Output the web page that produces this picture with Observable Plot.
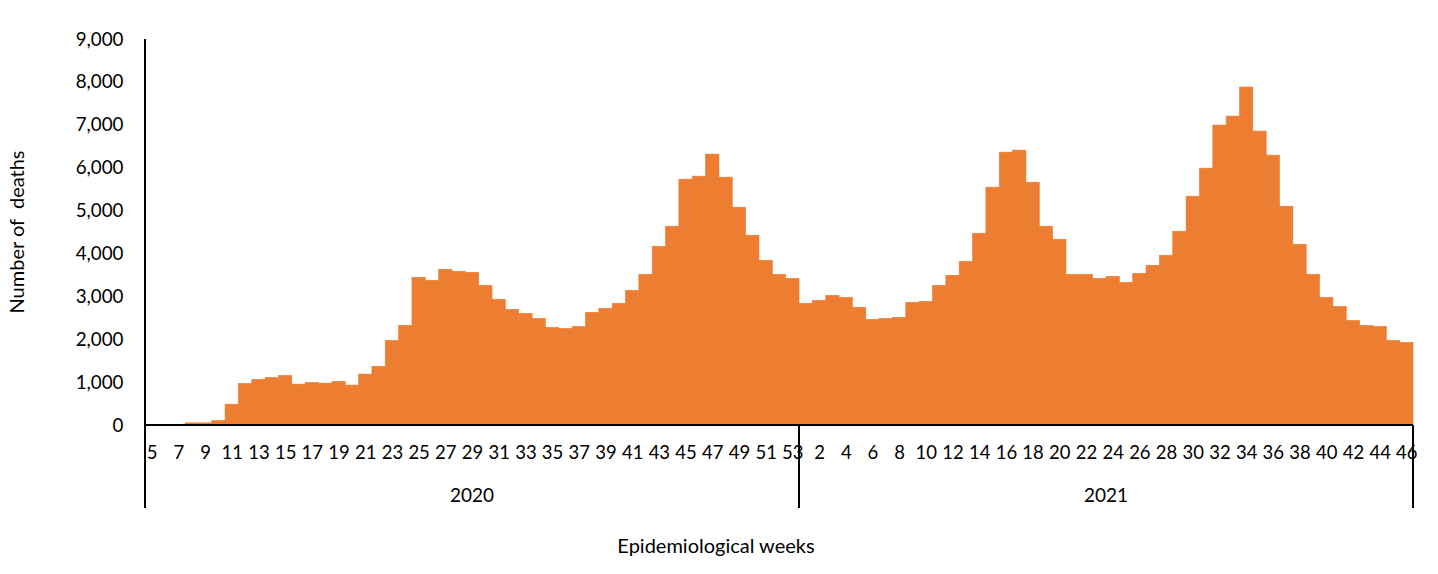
<!DOCTYPE html>
<html><head><meta charset="utf-8">
<script src="https://cdn.jsdelivr.net/npm/d3@7"></script>
<script src="https://cdn.jsdelivr.net/npm/@observablehq/plot@0.6"></script>
<style>body{margin:0;background:#fff} svg{display:block}</style>
</head><body><div id="chart"></div>
<script>
const years = [2020, 2021];
const weeks2020 = [5,6,7,8,9,10,11,12,13,14,15,16,17,18,19,20,21,22,23,24,25,26,27,28,29,30,31,32,33,34,35,36,37,38,39,40,41,42,43,44,45,46,47,48,49,50,51,52,53];
const deaths2020 = [0,0,0,50,50,105,486,969,1062,1109,1156,953,992,976,1016,930,1187,1370,1973,2323,3444,3374,3631,3584,3560,3257,2930,2697,2603,2487,2276,2253,2300,2627,2720,2837,3140,3514,4168,4635,5732,5802,6316,5779,5078,4424,3841,3514,3420];
const weeks2021 = [1,2,3,4,5,6,7,8,9,10,11,12,13,14,15,16,17,18,19,20,21,22,23,24,25,26,27,28,29,30,31,32,33,34,35,36,37,38,39,40,41,42,43,44,45,46];
const deaths2021 = [2837,2907,3024,2977,2743,2463,2487,2510,2860,2883,3257,3490,3817,4471,5545,6362,6409,5662,4635,4331,3514,3514,3420,3467,3327,3537,3724,3957,4518,5335,5989,6993,7203,7880,6853,6292,5101,4214,3514,2977,2767,2440,2323,2300,1973,1926];
const yTicks = [0,1000,2000,3000,4000,5000,6000,7000,8000,9000];
const yTitle = "Number of  deaths";
const xTitle = "Epidemiological weeks";

const rows = [
  ...weeks2020.map((w, i) => ({year: years[0], week: w, key: `${years[0]}-${w}`, deaths: deaths2020[i]})),
  ...weeks2021.map((w, i) => ({year: years[1], week: w, key: `${years[1]}-${w}`, deaths: deaths2021[i]}))
];
const weekOf = new Map(rows.map(d => [d.key, String(d.week)]));
const tickKeys = rows.filter((d, i) => i % 2 === 0).map(d => d.key);
const font = "Lato, 'Open Sans', sans-serif";
const ink = "#000";

const decorations = (index, scales, values, dims) => {
  const x = scales.x, y = scales.y;
  const bw = x.bandwidth ? x.bandwidth() : (dims.width - dims.marginLeft - dims.marginRight) / rows.length;
  const y0 = y(0), yTop = y(9000), yBot = y0 + 83;
  const left = x(rows[0].key);
  const right = x(rows[rows.length - 1].key) + bw;
  const g = d3.create("svg:g").attr("fill", ink).attr("font-family", font);
  const line = (x1, y1, x2, y2) => g.append("line").attr("x1", x1).attr("y1", y1).attr("x2", x2).attr("y2", y2)
      .attr("stroke", ink).attr("stroke-width", 2);
  line(left, yTop, left, yBot);
  line(left, y0, right, y0);
  years.forEach((yr, k) => {
    const ks = rows.filter(d => d.year === yr);
    const a = x(ks[0].key), b = x(ks[ks.length - 1].key) + bw;
    if (k > 0) line(a, y0, a, yBot);
    g.append("text").attr("x", (a + b) / 2).attr("y", y0 + 70).attr("dy", "0.35em")
      .attr("text-anchor", "middle").attr("font-size", 19).text(String(yr));
  });
  line(right, y0, right, yBot);
  g.append("text").attr("x", 716).attr("y", y0 + 121).attr("dy", "0.35em")
    .attr("text-anchor", "middle").attr("font-size", 20).text(xTitle);
  g.append("text").attr("transform", `translate(17,${(y0 + yTop) / 2}) rotate(-90)`).attr("dy", "0.35em")
    .attr("text-anchor", "middle").attr("font-size", 20).text(yTitle);
  return g.node();
};

const chart = Plot.plot({
  width: 1438, height: 574,
  marginLeft: 145, marginRight: 25, marginTop: 39, marginBottom: 149,
  style: {fontFamily: font, fontSize: "18px", color: ink, background: "#fff"},
  x: {type: "band", domain: rows.map(d => d.key), padding: 0},
  y: {domain: [0, 9000]},
  marks: [
    Plot.barY(rows, {x: "key", y: "deaths", fill: "#ED7D31", stroke: "#ED7D31", strokeWidth: 0.6}),
    Plot.axisY({ticks: yTicks, tickSize: 0, tickPadding: 22, tickFormat: d3.format(","), label: null, fontSize: 18.8}),
    Plot.axisX({ticks: tickKeys, tickSize: 0, tickPadding: 20, tickFormat: k => weekOf.get(k), label: null, fontSize: 18.5}),
    decorations
  ]
});
document.getElementById("chart").append(chart);
</script>
</body></html>
